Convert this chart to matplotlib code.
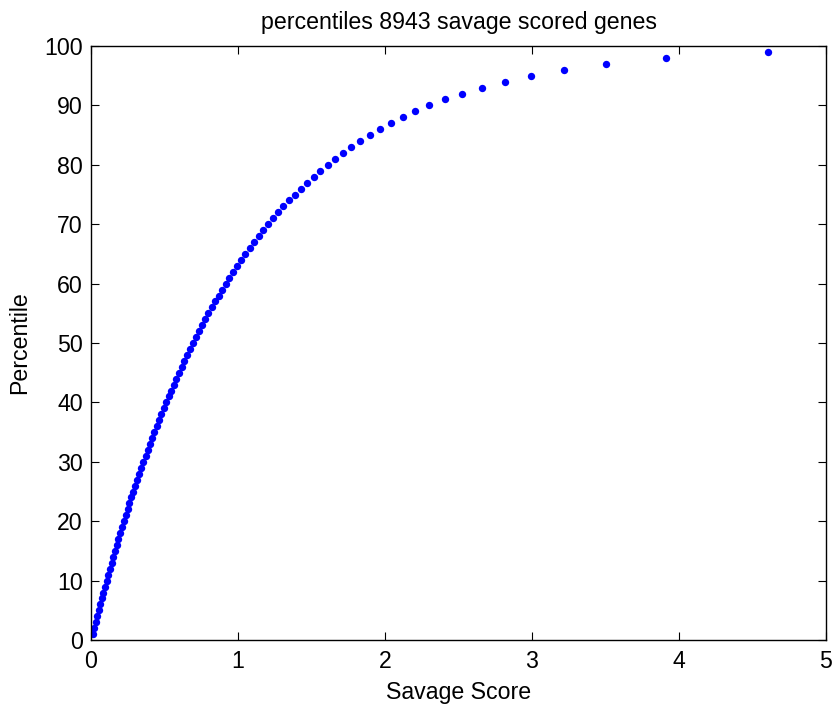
import matplotlib
matplotlib.use("Agg")
import matplotlib.pyplot as plt

percentiles = list(range(1, 100))
savage_scores = [
    0.0100, 0.0202, 0.0305, 0.0408, 0.0513, 0.0619, 0.0726, 0.0834, 0.0943, 0.1054,
    0.1165, 0.1278, 0.1393, 0.1508, 0.1625, 0.1744, 0.1863, 0.1985, 0.2107, 0.2231,
    0.2357, 0.2485, 0.2614, 0.2744, 0.2877, 0.3011, 0.3147, 0.3285, 0.3425, 0.3567,
    0.3711, 0.3857, 0.4005, 0.4155, 0.4308, 0.4463, 0.4620, 0.4780, 0.4943, 0.5108,
    0.5276, 0.5447, 0.5621, 0.5798, 0.5978, 0.6162, 0.6349, 0.6539, 0.6733, 0.6931,
    0.7133, 0.7340, 0.7550, 0.7765, 0.7985, 0.8210, 0.8440, 0.8675, 0.8916, 0.9163,
    0.9416, 0.9676, 0.9943, 1.0217, 1.0498, 1.0788, 1.1087, 1.1394, 1.1712, 1.2040,
    1.2379, 1.2730, 1.3093, 1.3471, 1.3863, 1.4271, 1.4697, 1.5141, 1.5606, 1.6094,
    1.6607, 1.7148, 1.7720, 1.8326, 1.8971, 1.9661, 2.0402, 2.1203, 2.2073, 2.3026,
    2.4079, 2.5257, 2.6593, 2.8134, 2.9957, 3.2189, 3.5066, 3.9120, 4.6052,
]
x_ticks = [0, 1, 2, 3, 4, 5]
y_ticks = list(range(0, 101, 10))

plt.rcParams['font.family'] = ['Liberation Sans', 'DejaVu Sans']
fig = plt.figure(figsize=(8.36, 7.08), dpi=100)
ax = fig.add_axes([0.1089, 0.096, 0.8791, 0.839])
ax.plot(savage_scores, percentiles, linestyle='none', marker='o',
        markersize=5.3, color='#0000ff', markeredgewidth=0)
ax.set_xlim(0, 5)
ax.set_ylim(0, 100)
ax.set_xticks(x_ticks)
ax.set_yticks(y_ticks)
ax.tick_params(direction='in', labelsize=16.7, length=6, top=True, right=True,
               labeltop=False, labelright=False)
ax.tick_params(axis='x', pad=7)
ax.tick_params(axis='y', pad=6)
ax.set_xlabel('Savage Score', fontsize=16.7, labelpad=6)
ax.set_ylabel('Percentile', fontsize=16.7, labelpad=9)
ax.set_title('percentiles 8943 savage scored genes', fontsize=16.7, pad=12)
for s in ax.spines.values():
    s.set_linewidth(1.0)
fig.savefig('out.png', dpi=100)
